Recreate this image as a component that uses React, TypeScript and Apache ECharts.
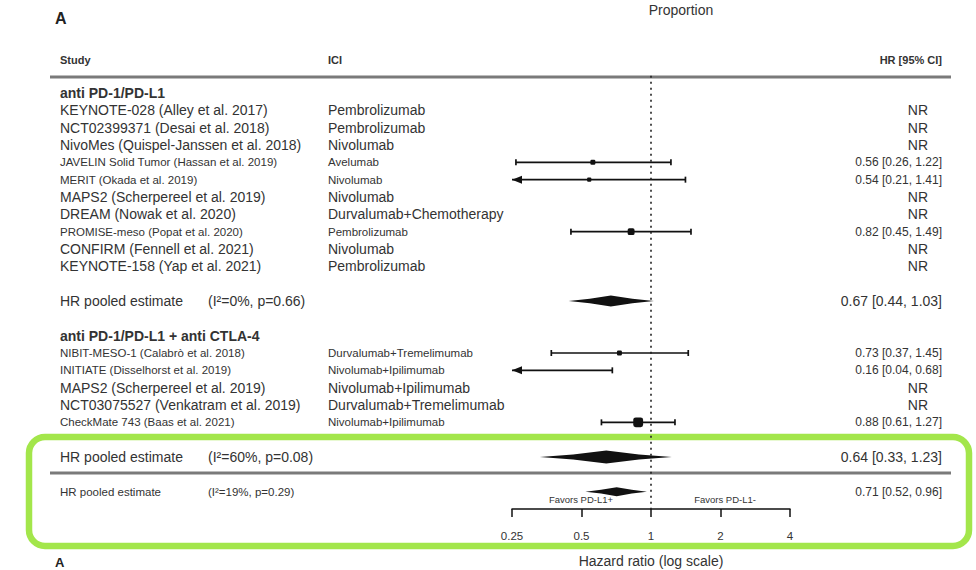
import React, { useEffect, useRef } from "react";
import * as echarts from "echarts";

// ---------- data ----------
const group1Title = "anti PD-1/PD-L1";
const group1Studies = [
  "KEYNOTE-028 (Alley et al. 2017)",
  "NCT02399371 (Desai et al. 2018)",
  "NivoMes (Quispel-Janssen et al. 2018)",
  "JAVELIN Solid Tumor (Hassan et al. 2019)",
  "MERIT (Okada et al. 2019)",
  "MAPS2 (Scherpereel et al. 2019)",
  "DREAM (Nowak et al. 2020)",
  "PROMISE-meso (Popat et al. 2020)",
  "CONFIRM (Fennell et al. 2021)",
  "KEYNOTE-158 (Yap et al. 2021)",
];
const group1ICI = [
  "Pembrolizumab",
  "Pembrolizumab",
  "Nivolumab",
  "Avelumab",
  "Nivolumab",
  "Nivolumab",
  "Durvalumab+Chemotherapy",
  "Pembrolizumab",
  "Nivolumab",
  "Pembrolizumab",
];
const group1HR = [null, null, null, 0.56, 0.54, null, null, 0.82, null, null];
const group1Lower = [null, null, null, 0.26, 0.21, null, null, 0.45, null, null];
const group1Upper = [null, null, null, 1.22, 1.41, null, null, 1.49, null, null];
const group1Weight = [0, 0, 0, 1.4, 1.0, 0, 0, 2.7, 0, 0];

const group2Title = "anti PD-1/PD-L1 + anti CTLA-4";
const group2Studies = [
  "NIBIT-MESO-1 (Calabrò et al. 2018)",
  "INITIATE (Disselhorst et al. 2019)",
  "MAPS2 (Scherpereel et al. 2019)",
  "NCT03075527 (Venkatram et al. 2019)",
  "CheckMate 743 (Baas et al. 2021)",
];
const group2ICI = [
  "Durvalumab+Tremelimumab",
  "Nivolumab+Ipilimumab",
  "Nivolumab+Ipilimumab",
  "Durvalumab+Tremelimumab",
  "Nivolumab+Ipilimumab",
];
const group2HR = [0.73, 0.16, null, null, 0.88];
const group2Lower = [0.37, 0.04, null, null, 0.61];
const group2Upper = [1.45, 0.68, null, null, 1.27];
const group2Weight = [1.4, 1.0, 0, 0, 5.5];

// pooled estimates: group 1, group 2, overall
const pooledHR = [0.67, 0.64, 0.71];
const pooledLower = [0.44, 0.33, 0.52];
const pooledUpper = [1.03, 1.23, 0.96];
const pooledHet = ["(I²=0%, p=0.66)", "(I²=60%, p=0.08)", "(I²=19%, p=0.29)"];

const favorsLabels = ["Favors PD-L1+", "Favors PD-L1-"];

const xTicks = [0.25, 0.5, 1, 2, 4];
const xTickLabels = ["0.25", "0.5", "1", "2", "4"];

// ---------- style ----------
const group1Small = [false, false, false, true, true, false, false, true, false, false];
const group2Small = [true, true, false, false, true];
const diamondHalf = [5.5, 6.5, 4.5];
const INK = "#111";
const TXT = "#333";
const FONT = '"Liberation Sans", Arial, Helvetica, sans-serif';
const X_MIN = xTicks[0];
const X_MAX = xTicks[xTicks.length - 1];

type Row = {
  row: number;
  kind: "group" | "study" | "pooled" | "overall";
  label: string;
  ici?: string;
  hr?: number | null;
  lo?: number | null;
  hi?: number | null;
  w?: number;
  small?: boolean;
  pIdx?: number;
};

function buildRows(): Row[] {
  const rows: Row[] = [];
  let r = 0;
  rows.push({ row: r++, kind: "group", label: group1Title });
  group1Studies.forEach((s, i) =>
    rows.push({
      row: r++,
      kind: "study",
      label: s,
      ici: group1ICI[i],
      hr: group1HR[i],
      lo: group1Lower[i],
      hi: group1Upper[i],
      w: group1Weight[i],
      small: group1Small[i],
    })
  );
  r++;
  rows.push({ row: r++, kind: "pooled", label: "HR pooled estimate", pIdx: 0 });
  r++;
  rows.push({ row: r++, kind: "group", label: group2Title });
  group2Studies.forEach((s, i) =>
    rows.push({
      row: r++,
      kind: "study",
      label: s,
      ici: group2ICI[i],
      hr: group2HR[i],
      lo: group2Lower[i],
      hi: group2Upper[i],
      w: group2Weight[i],
      small: group2Small[i],
    })
  );
  r++;
  rows.push({ row: r++, kind: "pooled", label: "HR pooled estimate", pIdx: 1 });
  r++;
  rows.push({ row: r++, kind: "overall", label: "HR pooled estimate", pIdx: 2 });
  return rows;
}

const f2 = (v: number) => v.toFixed(2);

export default function App() {
  const ref = useRef<HTMLDivElement>(null);
  useEffect(() => {
    document.body.style.margin = "0";
    const chart = echarts.init(ref.current!, null, { renderer: "svg" });
    const rows = buildRows();

    const txt = (
      x: number,
      y: number,
      text: string,
      size: number,
      align: string = "left",
      bold = false
    ) => ({
      type: "text",
      x,
      y,
      style: {
        text,
        font: `${bold ? "bold " : ""}${size}px ${FONT}`,
        fill: TXT,
        align,
        verticalAlign: "middle",
        textAlign: align,
        textVerticalAlign: "middle",
      },
    });

    const renderItem = (params: any, api: any) => {
      const r = rows[params.dataIndex];
      const y = api.coord([1, r.row])[1];
      const cx = (v: number) => api.coord([v, r.row])[0];
      const children: any[] = [];
      if (r.kind === "group") {
        children.push(txt(60, y, r.label, 14, "left", true));
      } else if (r.kind === "study") {
        const fs = r.small ? 11.5 : 14;
        children.push(txt(60, y, r.label, fs));
        children.push(txt(328, y, r.ici || "", fs));
        if (r.hr != null && r.lo != null && r.hi != null) {
          children.push(
            txt(942, y, `${f2(r.hr)} [${f2(r.lo)}, ${f2(r.hi)}]`, 12, "right")
          );
          const loClamped = r.lo < X_MIN;
          const hiClamped = r.hi > X_MAX;
          const x1 = cx(Math.max(r.lo, X_MIN));
          const x2 = cx(Math.min(r.hi, X_MAX));
          children.push({
            type: "line",
            shape: { x1, y1: y, x2, y2: y },
            style: { stroke: INK, lineWidth: 1.7 },
          });
          if (loClamped) {
            children.push({
              type: "polygon",
              shape: { points: [[x1, y], [x1 + 10, y - 4], [x1 + 10, y + 4]] },
              style: { fill: INK },
            });
          } else {
            children.push({
              type: "line",
              shape: { x1, y1: y - 3, x2: x1, y2: y + 3 },
              style: { stroke: INK, lineWidth: 1.7 },
            });
          }
          if (hiClamped) {
            children.push({
              type: "polygon",
              shape: { points: [[x2, y], [x2 - 10, y - 4], [x2 - 10, y + 4]] },
              style: { fill: INK },
            });
          } else {
            children.push({
              type: "line",
              shape: { x1: x2, y1: y - 3, x2, y2: y + 3 },
              style: { stroke: INK, lineWidth: 1.7 },
            });
          }
          if (r.hr >= X_MIN && r.hr <= X_MAX) {
            const s = 4.2 * Math.sqrt(r.w || 1);
            children.push({
              type: "rect",
              shape: { x: cx(r.hr) - s / 2, y: y - s / 2, width: s, height: s, r: s / 4 },
              style: { fill: INK },
            });
          }
        } else {
          children.push(txt(928, y, "NR", 14, "right"));
        }
      } else {
        const i = r.pIdx as number;
        const fs = r.kind === "overall" ? 11.5 : 14;
        const vfs = r.kind === "overall" ? 12 : 14;
        children.push(txt(60, y, r.label, fs));
        children.push(txt(208, y, pooledHet[i], fs));
        children.push(
          txt(942, y, `${f2(pooledHR[i])} [${f2(pooledLower[i])}, ${f2(pooledUpper[i])}]`, vfs, "right")
        );
        const xl = cx(pooledLower[i]);
        const xc = cx(pooledHR[i]);
        const xr = cx(pooledUpper[i]);
        const h = diamondHalf[i];
        const ml = xl + (xc - xl) * 0.5;
        const mr = xc + (xr - xc) * 0.5;
        children.push({
          type: "polygon",
          shape: {
            points: [
              [xl, y],
              [ml, y - h * 0.4],
              [xc, y - h],
              [mr, y - h * 0.4],
              [xr, y],
              [mr, y + h * 0.4],
              [xc, y + h],
              [ml, y + h * 0.4],
            ],
          },
          style: { fill: INK },
        });
        if (r.kind === "overall") {
          const fy = y + 8;
          children.push(txt(581, fy, favorsLabels[0], 9.5, "center"));
          children.push(txt(725, fy, favorsLabels[1], 9.5, "center"));
        }
      }
      return { type: "group", children };
    };

    const option: any = {
      animation: false,
      backgroundColor: "#fff",
      grid: {
        left: 512,
        right: 186,
        top: 75.67,
        bottom: 61,
        containLabel: false,
        outerBoundsMode: "none",
      },
      xAxis: {
        type: "log",
        logBase: 2,
        min: X_MIN,
        max: X_MAX,
        position: "bottom",
        splitLine: { show: false },
        axisLine: { show: true, onZero: false, lineStyle: { color: INK, width: 1.5 } },
        axisTick: { show: true, length: 8, lineStyle: { color: INK, width: 1.5 } },
        axisLabel: {
          margin: 21,
          fontSize: 11.5,
          color: TXT,
          fontFamily: FONT,
          formatter: (v: number) => {
            let best = 0;
            xTicks.forEach((t, k) => {
              if (Math.abs(Math.log(t) - Math.log(v)) < Math.abs(Math.log(xTicks[best]) - Math.log(v))) best = k;
            });
            return xTickLabels[best];
          },
        },
        name: "Hazard ratio (log scale)",
        nameLocation: "middle",
        nameGap: 45,
        nameTextStyle: { fontSize: 14, color: TXT, fontFamily: FONT },
      },
      yAxis: {
        type: "value",
        inverse: true,
        min: -1,
        max: 24,
        show: false,
      },
      graphic: [
        { type: "text", x: 55, y: 18, style: { text: "A", font: `bold 16px ${FONT}`, fill: "#222", verticalAlign: "middle" } },
        { type: "text", x: 681, y: 10, style: { text: "Proportion", font: `14px ${FONT}`, fill: TXT, align: "center", verticalAlign: "middle" } },
        { type: "text", x: 60, y: 60, style: { text: "Study", font: `bold 11px ${FONT}`, fill: TXT, verticalAlign: "middle" } },
        { type: "text", x: 328, y: 60, style: { text: "ICI", font: `bold 11px ${FONT}`, fill: TXT, verticalAlign: "middle" } },
        { type: "text", x: 942, y: 60, style: { text: "HR [95% CI]", font: `bold 11px ${FONT}`, fill: TXT, align: "right", verticalAlign: "middle" } },
        { type: "line", shape: { x1: 50, y1: 77, x2: 951, y2: 77 }, style: { stroke: "#7a7a7a", lineWidth: 3 } },
        { type: "line", shape: { x1: 50, y1: 473, x2: 951, y2: 473 }, style: { stroke: "#7a7a7a", lineWidth: 3 } },
        { type: "rect", shape: { x: 29, y: 437, width: 940, height: 109, r: 16 }, style: { fill: "none", stroke: "#a3e64b", lineWidth: 6.5 } },
        { type: "text", x: 55, y: 562, style: { text: "A", font: `bold 13px ${FONT}`, fill: "#222", verticalAlign: "middle" } },
      ],
      series: [
        {
          type: "custom",
          coordinateSystem: "cartesian2d",
          clip: false,
          renderItem,
          data: rows.map((r) => [r.hr && r.hr > 0 ? r.hr : 1, r.row]),
          encode: { x: 0, y: 1 },
          markLine: {
            silent: true,
            symbol: "none",
            label: { show: false },
            lineStyle: { color: "#222", width: 1.6, type: [2, 4] },
            data: [{ xAxis: 1 }],
          },
        },
      ],
    };
    chart.setOption(option);
    return () => chart.dispose();
  }, []);
  return <div ref={ref} style={{ width: 976, height: 570 }} />;
}
